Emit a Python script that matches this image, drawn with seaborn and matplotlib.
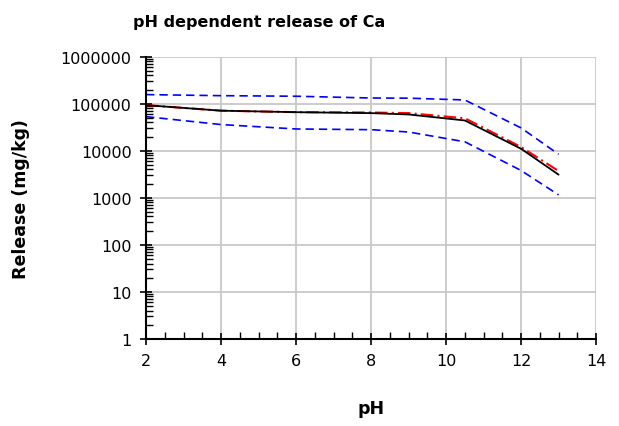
"""
pH dependent release of Ca - leaching curve with upper/lower bounds.
"""

import matplotlib
matplotlib.use("Agg")
import matplotlib.pyplot as plt
import matplotlib.ticker as mticker
import seaborn as sns
import pandas as pd

# Data
ph = [2, 4, 6, 8, 9, 10.5, 12, 13]
release_mean = [93000, 71000, 66000, 63000, 59000, 44000, 11000, 3100]
release_model = [93000, 71000, 66000, 65000, 63000, 49000, 12000, 3700]
release_upper = [156000, 148000, 144000, 132000, 131000, 120000, 30500, 8400]
release_lower = [53000, 36000, 29000, 28000, 25000, 15500, 3800, 1150]

y_ticks = [1, 10, 100, 1000, 10000, 100000, 1000000]
y_tick_labels = ["1", "10", "100", "1000", "10000", "100000", "1000000"]
x_ticks = [2, 4, 6, 8, 10, 12, 14]

TITLE = "pH dependent release of Ca"


def main():
    sns.set_style("white")
    plt.rcParams["font.family"] = ["DejaVu Sans"]
    plt.rcParams["text.color"] = "black"
    plt.rcParams["axes.labelcolor"] = "black"
    plt.rcParams["xtick.color"] = "black"
    plt.rcParams["ytick.color"] = "black"

    df = pd.DataFrame({
        "pH": ph,
        "mean": release_mean,
        "model": release_model,
        "upper": release_upper,
        "lower": release_lower,
    })

    fig = plt.figure(figsize=(6.19, 4.27), dpi=100)
    ax = fig.add_axes([0.236, 0.204, 0.727, 0.661])

    sns.lineplot(data=df, x="pH", y="upper", ax=ax, color="#0000ff",
                 linestyle=(0, (5, 3)), linewidth=1.2)
    sns.lineplot(data=df, x="pH", y="lower", ax=ax, color="#0000ff",
                 linestyle=(0, (5, 3)), linewidth=1.2)
    sns.lineplot(data=df, x="pH", y="model", ax=ax, color="#ff0000",
                 linestyle=(0, (6, 2, 1, 2)), linewidth=1.5)
    sns.lineplot(data=df, x="pH", y="mean", ax=ax, color="black",
                 linewidth=1.3)

    ax.set_yscale("log")
    ax.set_ylim(1, 1000000)
    ax.set_xlim(2, 14)

    ax.set_yticks(y_ticks)
    ax.set_yticklabels(y_tick_labels)
    ax.yaxis.set_minor_locator(mticker.LogLocator(base=10, subs=range(2, 10), numticks=20))
    ax.yaxis.set_minor_formatter(mticker.NullFormatter())
    ax.set_xticks(x_ticks)
    ax.xaxis.set_minor_locator(mticker.MultipleLocator(0.5))

    ax.grid(True, which="major", color="#c8c8c8", linewidth=1.3)
    ax.set_axisbelow(True)

    for side in ["top", "right"]:
        ax.spines[side].set_visible(False)
    for side in ["left", "bottom"]:
        ax.spines[side].set_color("black")
        ax.spines[side].set_linewidth(1.5)
        ax.spines[side].set_zorder(3)

    ax.tick_params(axis="both", which="both", bottom=True, left=True)
    ax.tick_params(axis="both", which="major", direction="inout", length=9,
                   width=1.2, color="black", labelsize=11.5, pad=6)
    ax.tick_params(axis="both", which="minor", direction="in", length=5,
                   width=1.0, color="black")

    ax.set_xlabel("pH", fontsize=12.5, fontweight="bold", labelpad=22)
    ax.set_ylabel("Release (mg/kg)", fontsize=12.5, fontweight="bold", labelpad=22)

    fig.text(259 / 619, 1 - 22 / 427, TITLE, ha="center", va="center",
             fontsize=11.5, fontweight="bold")

    fig.savefig("out.png", dpi=100)
    plt.close(fig)


if __name__ == "__main__":
    main()
